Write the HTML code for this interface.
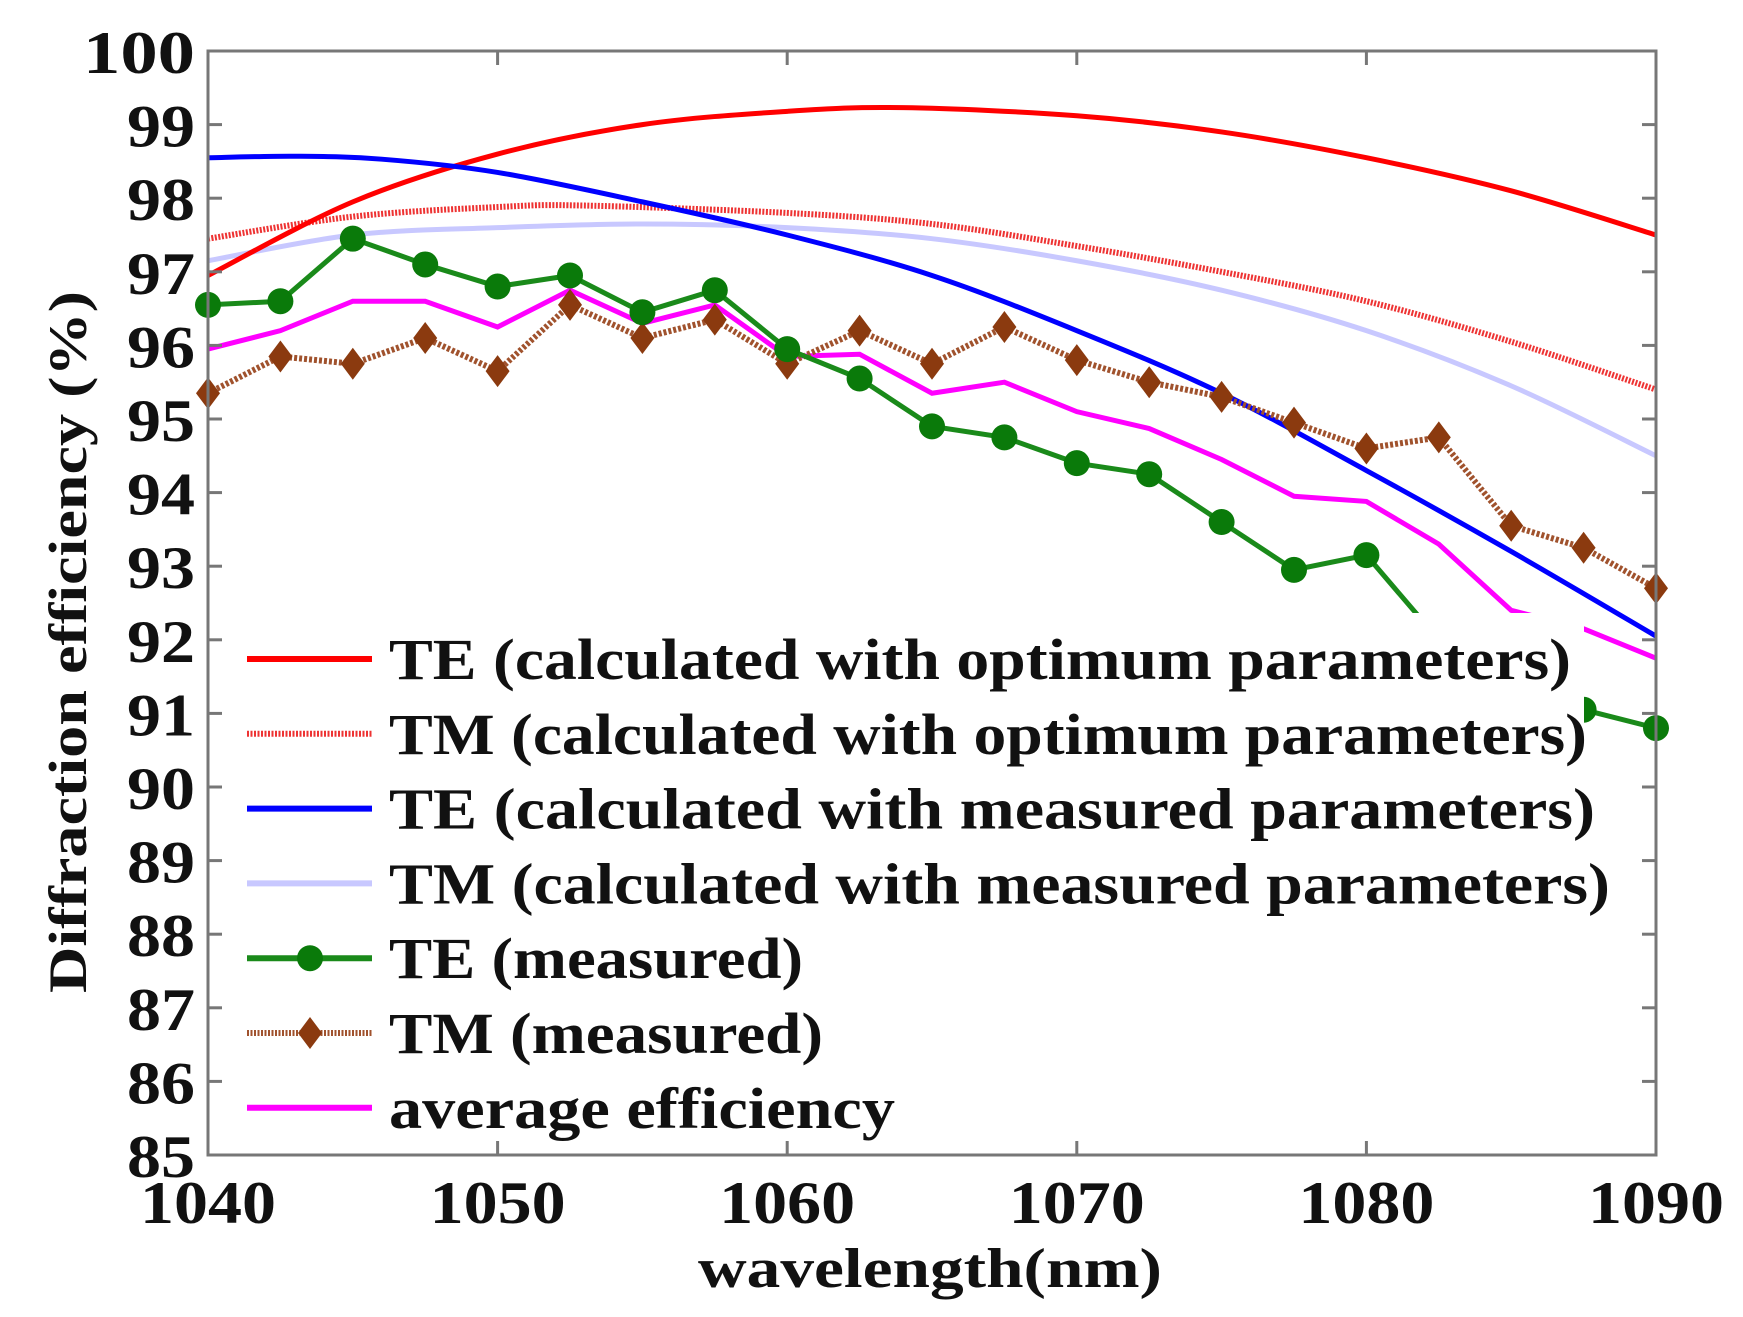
<!DOCTYPE html>
<html><head><meta charset="utf-8"><style>html,body{margin:0;padding:0;background:#fff}svg{display:block}</style></head>
<body>
<svg id="s" xmlns="http://www.w3.org/2000/svg" width="1743" height="1317" viewBox="0 0 1743 1317" font-family="Liberation Serif, serif" font-weight="bold">
<rect width="1743" height="1317" fill="#fff"/>
<g id="plot"></g>
<rect x="239" y="613" width="1345" height="538" fill="#fff"/>
<g id="leg"></g>
<rect x="208" y="51" width="1448" height="1104" fill="none" stroke="#777" stroke-width="3"/>
<g id="ticks" stroke="#777" stroke-width="3"></g>
<g id="lab" font-size="60" fill="#111"></g>
<text x="930" y="1287" font-size="56" text-anchor="middle" fill="#111" textLength="464" lengthAdjust="spacingAndGlyphs">wavelength(nm)</text>
<text transform="translate(86,642) rotate(-90)" font-size="54" text-anchor="middle" fill="#111" textLength="702" lengthAdjust="spacingAndGlyphs">Diffraction efficiency (%)</text>
</svg>
<script>
const X=x=>208+(x-1040)*28.96, Y=y=>1155-(y-85)*73.6;
const NS="http://www.w3.org/2000/svg";
function el(p,t,a,txt){const e=document.createElementNS(NS,t);for(const k in a)e.setAttribute(k,a[k]);if(txt)e.textContent=txt;document.getElementById(p).appendChild(e);return e;}
function smooth(pts){const P=pts.map(p=>[X(p[0]),Y(p[1])]);let d="M"+P[0];for(let i=0;i<P.length-1;i++){const p0=P[i-1]||P[i],p1=P[i],p2=P[i+1],p3=P[i+2]||P[i+1];const c1=[p1[0]+(p2[0]-p0[0])/6,p1[1]+(p2[1]-p0[1])/6],c2=[p2[0]-(p3[0]-p1[0])/6,p2[1]-(p3[1]-p1[1])/6];d+=" C"+c1+" "+c2+" "+p2;}return d;}
function poly(pts){return "M"+pts.map(p=>X(p[0])+","+Y(p[1])).join(" L");}
const teo=[[1040,96.95],[1045,97.95],[1050,98.6],[1055,99.0],[1060,99.18],[1064,99.23],[1070,99.12],[1075,98.9],[1080,98.55],[1085,98.1],[1090,97.5]];
const tmo=[[1040,97.45],[1045,97.75],[1050,97.88],[1053,97.9],[1060,97.8],[1065,97.65],[1070,97.35],[1075,97.0],[1080,96.6],[1085,96.05],[1090,95.4]];
const tem=[[1040,98.55],[1043,98.57],[1046,98.53],[1050,98.35],[1055,97.95],[1060,97.5],[1065,96.95],[1070,96.2],[1075,95.35],[1080,94.3],[1085,93.2],[1090,92.05]];
const tmm=[[1040,97.15],[1045,97.5],[1050,97.6],[1055,97.65],[1060,97.6],[1065,97.45],[1070,97.15],[1075,96.75],[1080,96.2],[1085,95.45],[1090,94.5]];
const xs=[];for(let i=0;i<=20;i++)xs.push(1040+2.5*i);
const gv=[96.55,96.6,97.45,97.1,96.8,96.95,96.45,96.75,95.95,95.55,94.9,94.75,94.4,94.25,93.6,92.95,93.15,92.0,91.5,91.05,90.8];
const bv=[95.35,95.85,95.75,96.1,95.65,96.55,96.1,96.35,95.75,96.2,95.75,96.25,95.8,95.5,95.3,94.95,94.6,94.75,93.55,93.25,92.7];
const mv=[95.95,96.2,96.6,96.6,96.25,96.75,96.3,96.55,95.85,95.88,95.35,95.5,95.1,94.87,94.45,93.95,93.88,93.3,92.4,92.15,91.75];
const G=xs.map((x,i)=>[x,gv[i]]),B=xs.map((x,i)=>[x,bv[i]]),M=xs.map((x,i)=>[x,mv[i]]);
el("plot","path",{d:smooth(tmm),stroke:"#c8c8ff",fill:"none","stroke-width":5});
el("plot","path",{d:smooth(tmo),stroke:"#e33",fill:"none","stroke-width":6,"stroke-dasharray":"2 1.5"});
el("plot","path",{d:smooth(teo),stroke:"#f00",fill:"none","stroke-width":5});
el("plot","path",{d:smooth(tem),stroke:"#00f",fill:"none","stroke-width":5});
el("plot","path",{d:poly(M),stroke:"#f0f",fill:"none","stroke-width":5});
el("plot","path",{d:poly(B),stroke:"#a0522d",fill:"none","stroke-width":6,"stroke-dasharray":"3 2"});
B.forEach(p=>el("plot","path",{d:`M${X(p[0])},${Y(p[1])-16} l12,16 l-12,16 l-12,-16z`,fill:"#8b3a0f"}));
el("plot","path",{d:poly(G),stroke:"#1a8a1a",fill:"none","stroke-width":5});
G.forEach(p=>el("plot","circle",{cx:X(p[0]),cy:Y(p[1]),r:13,fill:"#0a7a0a"}));
const L=[["TE (calculated with optimum parameters)","#f00",0],["TM (calculated with optimum parameters)","#e33",1],["TE (calculated with measured parameters)","#00f",0],["TM (calculated with measured parameters)","#c8c8ff",0],["TE (measured)","#1a8a1a",2],["TM (measured)","#a0522d",3],["average efficiency","#f0f",0]];
const W=[1182,1198,1206,1221,414,434,506];
L.forEach((l,i)=>{const y=659+i*74.8;
 const a={x1:247,x2:372,y1:y,y2:y,stroke:l[1],"stroke-width":6};
 if(l[2]==1||l[2]==3)a["stroke-dasharray"]="2 1.5";
 el("leg","line",a);
 if(l[2]==2)el("leg","circle",{cx:310,cy:y,r:13,fill:"#0a7a0a"});
 if(l[2]==3)el("leg","path",{d:`M310,${y-16} l12,16 l-12,16 l-12,-16z`,fill:"#8b3a0f"});
 el("leg","text",{x:389,y:y+20,"font-size":58,fill:"#111",textLength:W[i],lengthAdjust:"spacingAndGlyphs"},l[0]);});
for(let v=85;v<=100;v++){const y=Y(v);
 el("ticks","line",{x1:208,x2:222,y1:y,y2:y});el("ticks","line",{x1:1642,x2:1656,y1:y,y2:y});
 el("lab","text",{x:195,y:y+22,"text-anchor":"end",textLength:v==100?112:68,lengthAdjust:"spacingAndGlyphs"},String(v));}
for(let v=1040;v<=1090;v+=10){const x=X(v);
 el("ticks","line",{x1:x,x2:x,y1:1155,y2:1141});el("ticks","line",{x1:x,x2:x,y1:51,y2:65});
 el("lab","text",{x:x,y:1223,"text-anchor":"middle",textLength:136,lengthAdjust:"spacingAndGlyphs"},String(v));}
</script>
</body></html>
